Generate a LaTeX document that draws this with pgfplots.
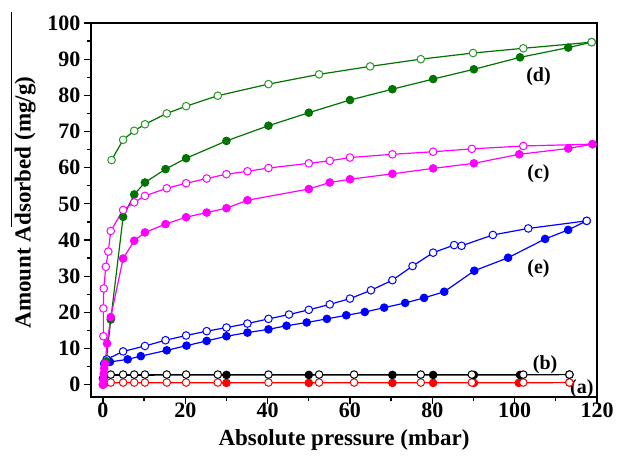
\documentclass[border=0pt]{standalone}
\usepackage{fontspec}
\setmainfont{Liberation Serif}
\usepackage{pgfplots}
\pgfplotsset{compat=1.18}
\definecolor{dgreen}{RGB}{0,115,0}
\definecolor{lgreen}{RGB}{40,150,40}
\definecolor{mag}{RGB}{255,0,255}
\definecolor{blu}{RGB}{0,0,255}
\definecolor{rd}{RGB}{255,0,0}

\pgfplotstableread{
x y
0.8 6.5
1.9 18.0
4.9 46.4
7.6 52.6
10.2 55.9
15.2 59.6
20.2 62.6
30.0 67.4
40.2 71.6
50.0 75.2
60.0 78.7
70.3 81.7
80.2 84.5
90.1 87.2
101.3 90.5
113.0 93.2
118.7 94.7
}\dads
\pgfplotstableread{
x y
2.1 62.1
4.9 67.7
7.6 70.2
10.2 72.0
15.5 75.0
20.2 77.0
27.9 79.9
40.2 83.1
52.5 85.8
64.9 88.0
77.2 90.0
89.9 91.7
102.1 93.0
118.7 94.7
}\ddes
\pgfplotstableread{
x y
0.0 0.0
0.1 1.5
0.2 3.0
0.3 4.5
0.5 5.8
1.0 11.4
1.9 18.7
4.9 34.9
7.6 39.8
10.2 42.1
15.2 44.4
20.2 46.3
25.2 47.6
30.0 48.8
35.1 51.0
50.0 54.1
55.1 55.9
60.0 56.8
70.3 58.3
80.2 59.8
90.1 61.2
101.1 63.7
113.0 65.3
118.9 66.5
}\cads
\pgfplotstableread{
x y
0.1 13.4
0.1 21.1
0.2 26.6
0.7 32.6
1.3 36.8
1.9 42.5
4.9 48.3
7.6 50.4
10.2 52.2
15.5 54.3
20.2 55.7
25.2 57.0
30.0 58.2
35.1 59.0
40.2 59.9
50.0 61.2
55.1 61.9
60.0 62.8
70.3 63.7
80.2 64.4
89.6 65.2
102.1 66.0
118.9 66.5
}\cdes
\pgfplotstableread{
x y
0.3 5.8
1.7 6.3
6.0 7.0
9.2 7.9
15.5 9.5
20.3 10.8
25.2 12.1
30.0 13.4
35.1 14.4
40.2 15.3
44.6 16.3
49.5 17.2
54.4 18.2
59.1 19.2
63.6 20.1
68.3 21.3
73.4 22.6
78.0 24.0
82.9 25.7
90.2 31.5
98.4 35.1
107.4 40.3
113.0 42.8
117.5 45.3
}\eads
\pgfplotstableread{
x y
0.9 7.0
4.9 9.2
10.2 10.7
15.2 12.3
20.2 13.6
25.2 14.8
30.0 15.8
35.1 16.9
40.2 18.2
45.2 19.4
50.0 20.7
55.1 22.2
60.0 23.8
65.1 26.1
70.3 28.9
75.2 32.8
80.2 36.5
85.3 38.6
87.1 38.4
94.7 41.4
103.3 43.2
117.5 45.3
}\edes
\pgfplotstableread{
x y
0.0 1.7
0.5 2.6
30.0 2.7
50.0 2.7
70.3 2.7
80.2 2.7
90.1 2.7
101.3 2.7
113.3 2.8
}\bads
\pgfplotstableread{
x y
1.9 2.8
4.9 2.8
7.6 2.8
10.2 2.8
15.5 2.8
20.2 2.8
27.9 2.8
40.2 2.8
52.5 2.8
61.0 2.8
77.2 2.8
89.6 2.8
102.1 2.8
113.3 2.8
}\bdes
\pgfplotstableread{
x y
0.0 0.0
0.5 0.5
30.0 0.5
50.0 0.5
70.3 0.5
80.2 0.5
90.1 0.5
101.0 0.5
113.3 0.6
}\aads
\pgfplotstableread{
x y
1.9 0.6
4.9 0.6
7.6 0.6
10.2 0.6
15.5 0.6
20.2 0.6
27.9 0.6
40.2 0.6
52.5 0.6
61.0 0.6
77.2 0.6
89.6 0.6
102.1 0.6
113.3 0.6
}\ades

\begin{document}
\begin{tikzpicture}
\useasboundingbox (-91pt,-65pt) rectangle (526pt,397pt);
\begin{axis}[
  scale only axis, width=506pt, height=374pt,
  at={(0pt,0pt)}, anchor=south west,
  xmin=-2.9, xmax=120, ymin=-3.4, ymax=100,
  xtick={0,20,...,120}, ytick={0,10,...,100},
  minor x tick num=1, minor y tick num=1,
  tick align=outside, tick pos=left,
  major tick length=7pt, minor tick length=4pt,
  every tick/.style={black, line width=1.3pt},
  axis line style={line width=1.6pt},
  ticklabel style={font=\fontsize{22}{22}\selectfont\bfseries},
  xticklabel style={yshift=5pt},
  /pgf/number format/assume math mode=true,
  xlabel={Absolute pressure (mbar)},
  ylabel={Amount Adsorbed (mg/g)},
  xlabel style={font=\fontsize{23}{23}\selectfont\bfseries, at={(axis description cs:0.5,-0.115)}, anchor=center},
  ylabel style={font=\fontsize{23}{23}\selectfont\bfseries, at={(axis description cs:-0.13,0.52)}, anchor=center},
  clip=false,
  every axis plot/.append style={line width=1.2pt, mark size=3.8pt},
]
% (a) red
\addplot[rd, mark=*, mark options={fill=rd, draw=rd, line width=1pt}] table {\aads};
\addplot[rd, mark=*, mark options={fill=white, draw=rd, line width=1pt}] table {\ades};
% (b) black
\addplot[black, mark=*, mark options={fill=black, draw=black, line width=1pt}] table {\bads};
\addplot[black, mark=*, mark options={fill=white, draw=black, line width=1pt}] table {\bdes};
% (e) blue
\addplot[blu, mark=*, mark options={fill=blu, draw=blu, line width=1pt}] table {\eads};
\addplot[blu, mark=*, mark options={fill=white, draw=blu, line width=1pt}] table {\edes};
% (d) green
\addplot[dgreen, mark=*, mark options={fill=dgreen, draw=dgreen, line width=1pt}] table {\dads};
\addplot[dgreen, mark=*, mark options={fill=white, draw=lgreen, line width=1pt}] table {\ddes};
% (c) magenta
\addplot[mag, mark=*, mark options={fill=white, draw=mag, line width=1pt}] table {\cdes};
\addplot[mag, mark=*, mark options={fill=mag, draw=mag, line width=1pt}] table {\cads};

\node[font=\fontsize{20}{20}\selectfont\bfseries] at (axis cs:105.8,85.2) {(d)};
\node[font=\fontsize{20}{20}\selectfont\bfseries] at (axis cs:105.8,58.3) {(c)};
\node[font=\fontsize{20}{20}\selectfont\bfseries] at (axis cs:105.8,32.1) {(e)};
\node[font=\fontsize{20}{20}\selectfont\bfseries] at (axis cs:107.4,5.4) {(b)};
\node[font=\fontsize{20}{20}\selectfont\bfseries] at (axis cs:116.3,-1.2) {(a)};
\end{axis}
\draw[line width=0.8pt] (-79.5pt,385pt) -- (-79.5pt,170pt);
\end{tikzpicture}
\end{document}
